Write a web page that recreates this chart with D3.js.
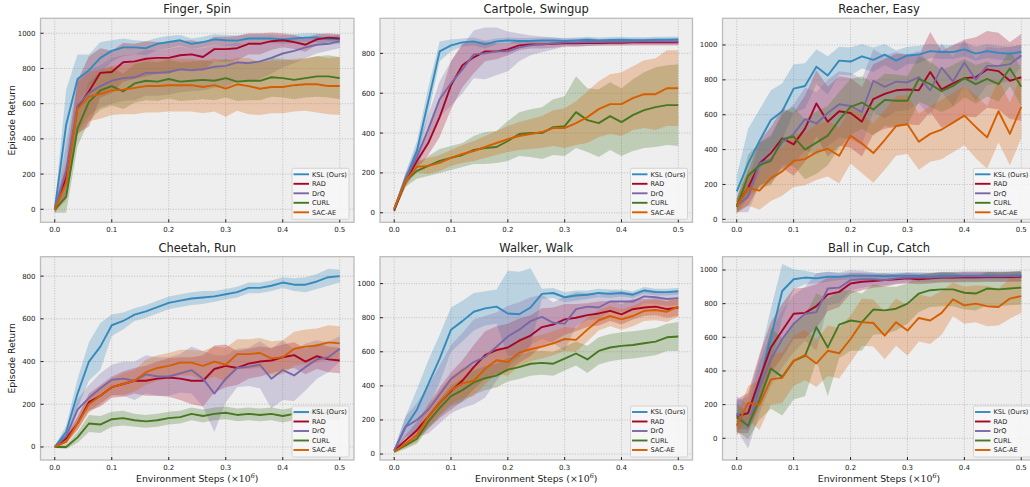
<!DOCTYPE html>
<html>
<head>
<meta charset="utf-8">
<script src="https://cdn.jsdelivr.net/npm/d3@7"></script>
<style>
  body { margin: 0; background: #fff; }
  text { font-family: 'DejaVu Sans', sans-serif; fill: #222; }
</style>
</head>
<body>
<svg id="chart" width="1030" height="487"></svg>
<script>
// environment steps (x1e6)
var steps = [0, 0.02, 0.04, 0.06, 0.08, 0.1, 0.12, 0.14, 0.16, 0.18, 0.2, 0.22, 0.24,
  0.26, 0.28, 0.3, 0.32, 0.34, 0.36, 0.38, 0.4, 0.42, 0.44, 0.46, 0.48, 0.5]

var methods = ['KSL (Ours)', 'RAD', 'DrQ', 'CURL', 'SAC-AE']
var colors = ['#348ABD', '#A60628', '#7A68A6', '#467821', '#D55E00']
var tasks = ['Finger, Spin', 'Cartpole, Swingup', 'Reacher, Easy', 'Cheetah, Run', 'Walker, Walk', 'Ball in Cup, Catch']
var xTicks = [0, 0.1, 0.2, 0.3, 0.4, 0.5]

// Finger, Spin
var fingerKsl = [0, 480, 740, 790, 860, 900, 920, 920, 915, 940, 950, 960, 940, 950, 965, 960, 958, 970, 970, 970, 965, 970, 975, 975, 965, 965]
var fingerKslSd = [20, 200, 140, 90, 90, 60, 50, 40, 40, 35, 35, 30, 30, 30, 30, 30, 30, 25, 25, 25, 25, 25, 25, 25, 30, 25]
var fingerRad = [0, 180, 580, 670, 775, 780, 835, 840, 855, 860, 860, 875, 880, 865, 910, 910, 915, 940, 940, 955, 960, 950, 935, 965, 975, 970]
var fingerRadSd = [20, 100, 150, 200, 140, 120, 110, 100, 100, 90, 90, 80, 80, 80, 70, 70, 70, 60, 60, 50, 40, 40, 40, 30, 25, 25]
var fingerDrq = [0, 220, 590, 660, 700, 730, 745, 750, 775, 775, 780, 795, 790, 795, 810, 815, 835, 830, 840, 860, 885, 900, 920, 935, 940, 955]
var fingerDrqSd = [20, 150, 150, 130, 120, 130, 130, 130, 130, 130, 130, 130, 120, 120, 120, 120, 110, 100, 100, 90, 80, 70, 60, 50, 40, 40]
var fingerCurl = [0, 70, 460, 610, 675, 700, 670, 715, 730, 725, 740, 725, 730, 735, 730, 745, 725, 730, 730, 750, 745, 735, 745, 755, 755, 745]
var fingerCurlSd = [20, 90, 100, 110, 110, 110, 100, 110, 110, 110, 110, 110, 110, 110, 110, 110, 110, 110, 110, 110, 110, 110, 110, 115, 120, 120]
var fingerSac = [0, 150, 570, 640, 655, 675, 680, 690, 700, 700, 705, 705, 705, 695, 705, 685, 710, 700, 685, 695, 695, 705, 710, 710, 700, 700]
var fingerSacSd = [20, 100, 150, 140, 140, 140, 140, 150, 150, 150, 150, 150, 150, 150, 150, 160, 150, 160, 150, 150, 150, 150, 150, 160, 160, 165]

// Cartpole, Swingup
var cartKsl = [20, 170, 310, 560, 810, 840, 855, 860, 845, 860, 865, 862, 862, 865, 865, 862, 865, 868, 865, 867, 868, 866, 866, 868, 868, 870]
var cartKslSd = [10, 30, 50, 70, 50, 30, 20, 20, 20, 15, 15, 15, 15, 15, 15, 15, 15, 15, 15, 15, 15, 15, 15, 15, 15, 15]
var cartRad = [10, 160, 260, 350, 480, 640, 740, 780, 810, 810, 820, 840, 845, 845, 848, 850, 850, 852, 852, 853, 853, 855, 855, 855, 855, 855]
var cartRadSd = [10, 30, 40, 60, 100, 120, 110, 80, 50, 40, 30, 25, 20, 20, 20, 15, 15, 15, 15, 15, 15, 15, 15, 15, 15, 15]
var cartDrq = [20, 170, 280, 420, 570, 650, 720, 795, 800, 810, 810, 830, 840, 845, 850, 855, 855, 857, 857, 858, 858, 859, 860, 860, 860, 860]
var cartDrqSd = [10, 30, 50, 70, 90, 110, 120, 120, 130, 120, 100, 70, 50, 40, 30, 20, 20, 20, 15, 15, 15, 15, 15, 15, 15, 15]
var cartCurl = [15, 160, 210, 235, 260, 275, 290, 315, 325, 330, 360, 395, 400, 400, 430, 435, 505, 465, 450, 485, 455, 490, 515, 530, 540, 540]
var cartCurlSd = [10, 30, 40, 50, 60, 60, 60, 70, 80, 80, 100, 110, 120, 130, 140, 150, 180, 160, 170, 170, 170, 180, 190, 200, 200, 205]
var cartSac = [20, 160, 230, 235, 250, 275, 295, 310, 330, 350, 370, 385, 395, 405, 425, 425, 450, 480, 520, 545, 545, 575, 595, 595, 625, 625]
var cartSacSd = [10, 20, 30, 40, 40, 40, 45, 50, 55, 60, 65, 70, 75, 80, 90, 100, 110, 130, 140, 150, 160, 160, 170, 180, 190, 190]

// Reacher, Easy
var reachKsl = [160, 320, 450, 570, 620, 750, 765, 875, 825, 910, 905, 935, 915, 945, 910, 940, 945, 965, 960, 960, 975, 950, 965, 955, 950, 960]
var reachKslSd = [90, 200, 180, 170, 160, 140, 130, 100, 110, 80, 80, 70, 70, 60, 60, 50, 50, 40, 40, 40, 40, 40, 40, 40, 40, 40]
var reachRad = [80, 180, 320, 380, 465, 430, 520, 665, 560, 620, 610, 560, 690, 720, 740, 745, 740, 845, 745, 780, 810, 815, 860, 850, 795, 815]
var reachRadSd = [40, 100, 130, 150, 170, 180, 190, 190, 200, 200, 200, 200, 200, 200, 210, 200, 200, 230, 220, 220, 220, 230, 220, 220, 220, 250]
var reachDrq = [80, 130, 320, 345, 440, 490, 575, 550, 610, 660, 650, 615, 795, 760, 790, 785, 815, 740, 870, 790, 900, 800, 880, 880, 890, 940]
var reachDrqSd = [40, 90, 120, 140, 160, 170, 180, 180, 190, 190, 190, 190, 180, 180, 170, 160, 150, 150, 140, 140, 130, 120, 110, 100, 100, 60]
var reachCurl = [70, 250, 310, 335, 460, 475, 400, 440, 480, 570, 645, 670, 630, 685, 680, 680, 805, 775, 735, 765, 810, 775, 805, 775, 865, 760]
var reachCurlSd = [40, 120, 130, 140, 150, 170, 170, 180, 170, 160, 160, 150, 150, 150, 150, 140, 130, 130, 120, 120, 110, 110, 100, 100, 100, 110]
var reachSac = [75, 180, 165, 235, 275, 335, 345, 385, 405, 365, 480, 435, 380, 455, 535, 545, 445, 490, 515, 555, 595, 530, 470, 620, 490, 645]
var reachSacSd = [40, 100, 110, 130, 140, 150, 150, 160, 160, 160, 160, 170, 170, 170, 170, 170, 160, 160, 170, 170, 170, 180, 180, 180, 180, 180]

// Cheetah, Run
var cheetahKsl = [0, 70, 250, 400, 470, 570, 590, 620, 635, 655, 675, 685, 695, 700, 705, 715, 725, 745, 745, 755, 770, 760, 760, 775, 795, 800]
var cheetahKslSd = [5, 30, 70, 90, 110, 50, 40, 30, 30, 30, 30, 30, 30, 30, 25, 25, 25, 25, 25, 25, 25, 30, 35, 35, 40, 30]
var cheetahRad = [0, 40, 110, 210, 240, 280, 295, 310, 310, 320, 325, 320, 310, 310, 365, 380, 370, 390, 400, 405, 420, 430, 400, 425, 410, 405]
var cheetahRadSd = [5, 20, 30, 40, 50, 50, 60, 60, 70, 80, 90, 100, 110, 120, 110, 100, 80, 70, 70, 60, 60, 60, 60, 60, 60, 60]
var cheetahDrq = [0, 50, 175, 230, 275, 315, 320, 310, 340, 330, 330, 345, 360, 320, 250, 320, 370, 375, 385, 320, 360, 335, 375, 410, 420, 460]
var cheetahDrqSd = [5, 30, 50, 60, 70, 70, 80, 90, 90, 90, 90, 90, 110, 130, 180, 110, 90, 90, 110, 140, 140, 120, 110, 90, 70, 60]
var cheetahCurl = [0, 0, 45, 110, 105, 130, 135, 125, 120, 125, 135, 140, 155, 145, 155, 160, 150, 155, 150, 155, 145, 155, 160, 160, 160, 155]
var cheetahCurlSd = [5, 10, 25, 40, 40, 35, 35, 30, 30, 30, 30, 30, 30, 30, 30, 30, 30, 30, 30, 30, 30, 30, 30, 30, 30, 30]
var cheetahSac = [0, 25, 110, 200, 240, 280, 295, 310, 350, 370, 380, 395, 395, 380, 400, 385, 435, 435, 440, 415, 420, 460, 470, 475, 490, 485]
var cheetahSacSd = [5, 15, 30, 40, 40, 40, 50, 50, 60, 60, 60, 60, 60, 70, 70, 80, 70, 70, 70, 80, 80, 80, 80, 80, 80, 80]

// Walker, Walk
var walkerKsl = [20, 160, 260, 410, 560, 730, 780, 835, 855, 865, 825, 820, 860, 940, 945, 920, 930, 935, 945, 940, 945, 935, 960, 950, 950, 955]
var walkerKslSd = [10, 60, 120, 140, 140, 130, 120, 110, 100, 100, 250, 250, 230, 30, 30, 30, 30, 25, 25, 25, 20, 20, 20, 20, 20, 20]
var walkerRad = [20, 80, 140, 220, 300, 370, 430, 510, 580, 610, 625, 665, 695, 745, 760, 790, 800, 815, 825, 840, 820, 850, 860, 865, 850, 860]
var walkerRadSd = [10, 30, 50, 70, 90, 110, 120, 130, 140, 140, 140, 130, 120, 110, 100, 90, 80, 70, 70, 60, 60, 60, 50, 50, 50, 50]
var walkerDrq = [20, 160, 200, 260, 350, 440, 490, 540, 570, 630, 690, 730, 780, 805, 770, 765, 850, 865, 860, 895, 895, 895, 925, 920, 910, 915]
var walkerDrqSd = [10, 60, 100, 140, 170, 200, 220, 250, 240, 200, 180, 160, 140, 130, 120, 160, 100, 80, 70, 60, 60, 50, 40, 40, 40, 40]
var walkerCurl = [15, 50, 90, 190, 270, 340, 375, 420, 445, 460, 495, 510, 530, 535, 530, 560, 590, 555, 605, 625, 635, 640, 650, 660, 685, 690]
var walkerCurlSd = [10, 20, 30, 40, 50, 60, 70, 70, 70, 70, 70, 70, 70, 70, 70, 70, 70, 80, 80, 80, 80, 80, 80, 80, 80, 85]
var walkerSac = [15, 60, 110, 220, 300, 375, 415, 430, 500, 550, 540, 595, 615, 630, 650, 675, 670, 730, 785, 810, 790, 810, 840, 845, 835, 865]
var walkerSacSd = [10, 20, 40, 60, 70, 80, 90, 90, 90, 80, 80, 80, 70, 70, 70, 70, 70, 70, 60, 60, 60, 60, 60, 60, 60, 60]

// Ball in Cup, Catch
var cupKsl = [140, 150, 330, 600, 875, 945, 955, 950, 960, 960, 965, 965, 965, 963, 965, 965, 965, 960, 968, 966, 966, 966, 967, 966, 968, 970]
var cupKslSd = [80, 100, 150, 170, 160, 60, 40, 30, 30, 20, 20, 20, 20, 20, 20, 20, 20, 20, 20, 20, 20, 20, 20, 20, 20, 20]
var cupRad = [130, 150, 350, 540, 640, 740, 745, 785, 855, 870, 920, 930, 935, 940, 945, 950, 945, 950, 955, 955, 957, 957, 958, 958, 958, 960]
var cupRadSd = [100, 120, 150, 150, 160, 150, 150, 130, 100, 90, 60, 50, 40, 40, 30, 30, 30, 30, 30, 30, 30, 30, 30, 30, 30, 30]
var cupDrq = [150, 70, 300, 470, 590, 680, 740, 750, 890, 895, 940, 945, 945, 940, 950, 955, 955, 955, 960, 960, 962, 962, 963, 963, 964, 965]
var cupDrqSd = [100, 130, 150, 160, 170, 170, 160, 230, 100, 90, 60, 50, 40, 30, 30, 30, 30, 30, 30, 30, 30, 30, 30, 30, 30, 30]
var cupCurl = [125, 75, 230, 415, 365, 460, 490, 660, 540, 675, 700, 690, 765, 760, 770, 800, 860, 880, 885, 885, 865, 860, 890, 885, 890, 895]
var cupCurlSd = [80, 80, 120, 240, 230, 230, 240, 200, 290, 200, 180, 170, 150, 140, 130, 120, 110, 100, 100, 100, 100, 100, 100, 100, 100, 100]
var cupSac = [75, 210, 200, 350, 360, 460, 495, 445, 520, 505, 590, 690, 685, 610, 690, 640, 715, 700, 745, 825, 790, 800, 785, 780, 830, 845]
var cupSacSd = [60, 100, 150, 150, 150, 150, 150, 140, 150, 150, 140, 140, 140, 140, 140, 150, 140, 140, 130, 100, 110, 110, 120, 110, 120, 100]

var means = [
  [fingerKsl, fingerRad, fingerDrq, fingerCurl, fingerSac],
  [cartKsl, cartRad, cartDrq, cartCurl, cartSac],
  [reachKsl, reachRad, reachDrq, reachCurl, reachSac],
  [cheetahKsl, cheetahRad, cheetahDrq, cheetahCurl, cheetahSac],
  [walkerKsl, walkerRad, walkerDrq, walkerCurl, walkerSac],
  [cupKsl, cupRad, cupDrq, cupCurl, cupSac]
]
var spreads = [
  [fingerKslSd, fingerRadSd, fingerDrqSd, fingerCurlSd, fingerSacSd],
  [cartKslSd, cartRadSd, cartDrqSd, cartCurlSd, cartSacSd],
  [reachKslSd, reachRadSd, reachDrqSd, reachCurlSd, reachSacSd],
  [cheetahKslSd, cheetahRadSd, cheetahDrqSd, cheetahCurlSd, cheetahSacSd],
  [walkerKslSd, walkerRadSd, walkerDrqSd, walkerCurlSd, walkerSacSd],
  [cupKslSd, cupRadSd, cupDrqSd, cupCurlSd, cupSacSd]
]

// axes boxes, picked to sit where the original subplots are
var cols = [[40.5, 354], [380, 692.5], [722.5, 1035.5]]
var rows = [[18.3, 222.3], [256.7, 460]]
var yDomains = [[-74, 1085], [-48, 976], [-17, 1153], [-61, 891], [-35, 1158], [-129, 1079]]
var yTickSets = [
  [0, 200, 400, 600, 800, 1000],
  [0, 200, 400, 600, 800],
  [0, 200, 400, 600, 800, 1000],
  [0, 200, 400, 600, 800],
  [0, 200, 400, 600, 800, 1000],
  [0, 200, 400, 600, 800, 1000]
]

var svg = d3.select('#chart')

tasks.forEach(function(task, i) {
  var col = cols[i % 3]
  var row = rows[Math.floor(i / 3)]

  var x = d3.scaleLinear().domain([-0.025, 0.525]).range(col)
  var y = d3.scaleLinear().domain(yDomains[i]).range([row[1], row[0]])

  var g = svg.append('g')

  g.append('rect')
    .attr('x', col[0]).attr('y', row[0])
    .attr('width', col[1] - col[0]).attr('height', row[1] - row[0])
    .attr('fill', '#eeeeee')

  // dotted grid
  g.selectAll('.gx')
    .data(xTicks)
    .enter().append('line')
    .attr('x1', d => x(d)).attr('x2', d => x(d))
    .attr('y1', row[0]).attr('y2', row[1])
    .attr('stroke', '#b2b2b2').attr('stroke-width', 0.8)
    .attr('stroke-dasharray', '1,1.6')
  g.selectAll('.gy')
    .data(yTickSets[i])
    .enter().append('line')
    .attr('x1', col[0]).attr('x2', col[1])
    .attr('y1', d => y(d)).attr('y2', d => y(d))
    .attr('stroke', '#b2b2b2').attr('stroke-width', 0.8)
    .attr('stroke-dasharray', '1,1.6')

  svg.append('clipPath').attr('id', 'clip' + i)
    .append('rect')
    .attr('x', col[0]).attr('y', row[0])
    .attr('width', col[1] - col[0]).attr('height', row[1] - row[0])

  var plot = g.append('g').attr('clip-path', 'url(#clip' + i + ')')

  var area = d3.area()
    .x((d, k) => x(steps[k]))
    .y0(d => y(d[0] - d[1]))
    .y1(d => y(d[0] + d[1]))
  var line = d3.line()
    .x((d, k) => x(steps[k]))
    .y(d => y(d))

  methods.forEach(function(m, j) {
    var band = means[i][j].map((v, k) => [v, spreads[i][j][k]])
    plot.append('path')
      .datum(band)
      .attr('d', area)
      .attr('fill', colors[j])
      .attr('fill-opacity', 0.27)
  })
  methods.forEach(function(m, j) {
    plot.append('path')
      .datum(means[i][j])
      .attr('d', line)
      .attr('fill', 'none')
      .attr('stroke', colors[j])
      .attr('stroke-width', 1.9)
      .attr('stroke-linejoin', 'round')
  })

  // frame
  g.append('rect')
    .attr('x', col[0]).attr('y', row[0])
    .attr('width', col[1] - col[0]).attr('height', row[1] - row[0])
    .attr('fill', 'none')
    .attr('stroke', '#bcbcbc').attr('stroke-width', 1.3)

  // inward ticks + labels
  xTicks.forEach(function(t) {
    g.append('line')
      .attr('x1', x(t)).attr('x2', x(t))
      .attr('y1', row[1]).attr('y2', row[1] - 3)
      .attr('stroke', '#222').attr('stroke-width', 1)
    g.append('text')
      .attr('x', x(t)).attr('y', row[1] + 10)
      .attr('text-anchor', 'middle')
      .attr('font-size', 7)
      .text(d3.format('.1f')(t))
  })
  yTickSets[i].forEach(function(t) {
    g.append('line')
      .attr('x1', col[0]).attr('x2', col[0] + 3)
      .attr('y1', y(t)).attr('y2', y(t))
      .attr('stroke', '#222').attr('stroke-width', 1)
    g.append('text')
      .attr('x', col[0] - 5).attr('y', y(t))
      .attr('dy', '0.35em')
      .attr('text-anchor', 'end')
      .attr('font-size', 7)
      .text(t)
  })

  g.append('text')
    .attr('x', (col[0] + col[1]) / 2).attr('y', row[0] - 5)
    .attr('text-anchor', 'middle')
    .attr('font-size', 11.5)
    .text(task)

  if (i % 3 === 0) {
    g.append('text')
      .attr('transform', 'translate(12,' + (row[0] + row[1]) / 2 + ') rotate(-90)')
      .attr('text-anchor', 'middle')
      .attr('dy', '0.35em')
      .attr('font-size', 9.3)
      .text('Episode Return')
  }
  if (i >= 3) {
    var xl = g.append('text')
      .attr('x', (col[0] + col[1]) / 2).attr('y', 482)
      .attr('text-anchor', 'middle')
      .attr('font-size', 9.3)
    xl.append('tspan').text('Environment Steps (')
    xl.append('tspan').attr('font-family', 'DejaVu Serif').attr('font-style', 'italic').text('\u00d7')
    xl.append('tspan').attr('font-family', 'DejaVu Serif').text('10')
    xl.append('tspan').attr('font-family', 'DejaVu Serif').attr('font-style', 'italic')
      .attr('font-size', 6.5).attr('dy', -4).text('6')
    xl.append('tspan').attr('dy', 4).text(')')
  }

  // legend, lower right
  var lw = 57, lh = 51
  var lx = col[1] - 5 - lw
  var ly = row[1] - 3 - lh
  var leg = g.append('g')
  leg.append('rect')
    .attr('x', lx).attr('y', ly)
    .attr('width', lw).attr('height', lh)
    .attr('rx', 1.5)
    .attr('fill', '#f6f6f6').attr('fill-opacity', 0.9)
    .attr('stroke', '#cccccc').attr('stroke-width', 0.8)
  methods.forEach(function(m, j) {
    var yy = ly + 6 + j * 9.5
    leg.append('line')
      .attr('x1', lx + 1.5).attr('x2', lx + 17)
      .attr('y1', yy).attr('y2', yy)
      .attr('stroke', colors[j]).attr('stroke-width', 1.9)
    leg.append('text')
      .attr('x', lx + 20).attr('y', yy)
      .attr('dy', '0.35em')
      .attr('font-size', 6.6)
      .text(m)
  })
})
</script>
</body>
</html>
